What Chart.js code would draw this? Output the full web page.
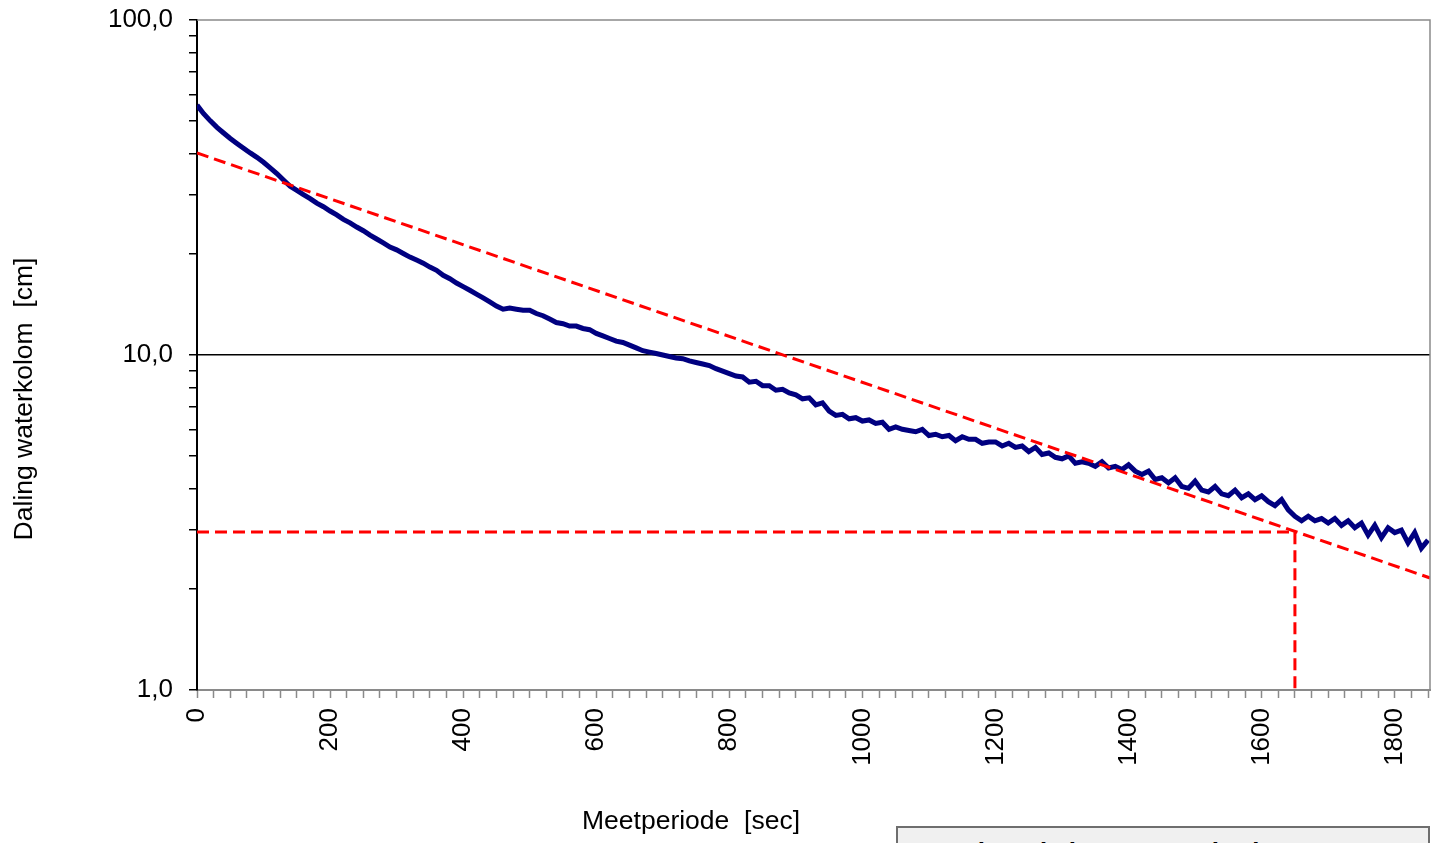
<!DOCTYPE html>
<html>
<head>
<meta charset="utf-8">
<script src="https://cdn.jsdelivr.net/npm/chart.js@4.4.1/dist/chart.umd.min.js"></script>
<style>
  html, body { margin: 0; padding: 0; background: #fff; overflow: hidden; width: 1436px; height: 843px; }
  #wrap { position: relative; width: 1436px; height: 843px; }
  #legendBox {
    position: absolute; left: 896px; top: 826px; width: 534px; height: 40px;
    border: 2px solid #6e6e6e; background: #f0f0f0;
    font: bold 26px "Liberation Sans", Arial, sans-serif; color: #000;
    padding: 9px 0 0 6px; box-sizing: border-box; white-space: nowrap;
  }
</style>
</head>
<body>
<div id="wrap">
  <canvas id="chart" width="1436" height="843"></canvas>
  <div id="legendBox">Omgekeerde boorgatmethode</div>
</div>
<script>
// measured fall of the water column, one reading every 10 sec (cm)
const SAMPLE_STEP = 10;
const measured = [
  55.7, 52.5, 50.0, 47.8, 46.0, 44.3, 42.8, 41.4, 40.1, 38.9,
  37.6, 36.2, 34.8, 33.3, 31.9, 31.0, 30.1, 29.3, 28.4, 27.7,
  26.9, 26.2, 25.4, 24.8, 24.1, 23.5, 22.8, 22.2, 21.6, 21.0,
  20.6, 20.1, 19.6, 19.2, 18.8, 18.3, 17.9, 17.3, 16.9, 16.4,
  16.0, 15.6, 15.2, 14.8, 14.4, 14.0, 13.7, 13.8, 13.7, 13.6,
  13.6, 13.3, 13.1, 12.8, 12.5, 12.4, 12.2, 12.2, 12.0, 11.9,
  11.6, 11.4, 11.2, 11.0, 10.9, 10.7, 10.5, 10.3, 10.2, 10.1,
  10.0, 9.9, 9.8, 9.75, 9.6, 9.5, 9.4, 9.3, 9.1, 8.95,
  8.8, 8.65, 8.6, 8.3, 8.35, 8.1, 8.1, 7.85, 7.9, 7.7,
  7.6, 7.4, 7.45, 7.1, 7.2, 6.8, 6.6, 6.65, 6.45, 6.5,
  6.35, 6.4, 6.25, 6.3, 6.0, 6.1, 6.0, 5.95, 5.9, 6.0,
  5.75, 5.8, 5.7, 5.75, 5.55, 5.7, 5.6, 5.6, 5.45, 5.5,
  5.5, 5.35, 5.45, 5.3, 5.35, 5.15, 5.3, 5.05, 5.1, 4.95,
  4.9, 5.0, 4.75, 4.8, 4.75, 4.65, 4.8, 4.6, 4.65, 4.55,
  4.7, 4.5, 4.4, 4.5, 4.25, 4.3, 4.15, 4.3, 4.05, 4.0,
  4.2, 3.95, 3.9, 4.05, 3.85, 3.8, 3.95, 3.75, 3.85, 3.7,
  3.8, 3.65, 3.55, 3.7, 3.45, 3.3, 3.2, 3.3, 3.2, 3.25,
  3.15, 3.25, 3.1, 3.2, 3.05, 3.15, 2.9, 3.1, 2.85, 3.05,
  2.95, 3.0, 2.75, 2.95, 2.65, 2.8
];

// fitted straight line (on log scale)
const trendX = [0, 1853];
const trendY = [40.1, 2.16];

// read-off lines: level and time
const readX = [0, 1650, 1650];
const readY = [2.96, 2.96, 1];

const xMax = 1853;
const yTicks = [1, 2, 3, 4, 5, 6, 7, 8, 9, 10, 20, 30, 40, 50, 60, 70, 80, 90, 100];
const yMajor = [1, 10, 100];

const FONT = '"Liberation Sans", Arial, sans-serif';

const measuredPts = measured.map((v, i) => ({ x: i * SAMPLE_STEP, y: v }));
const trendPts = trendX.map((x, i) => ({ x: x, y: trendY[i] }));
const readPts = readX.map((x, i) => ({ x: x, y: readY[i] }));

// gray frame on top and right, axis titles
const extras = {
  id: 'extras',
  afterDraw(chart) {
    const { ctx, chartArea } = chart;
    ctx.save();
    ctx.strokeStyle = '#8a8a8a';
    ctx.lineWidth = 1.5;
    ctx.beginPath();
    ctx.moveTo(chartArea.left, chartArea.top);
    ctx.lineTo(chartArea.right, chartArea.top);
    ctx.lineTo(chartArea.right, chartArea.bottom);
    ctx.stroke();

    ctx.fillStyle = '#000';
    ctx.font = '26.5px ' + FONT;
    ctx.textAlign = 'center';
    ctx.textBaseline = 'middle';
    ctx.fillText('Meetperiode  [sec]', 691, 822);
    ctx.translate(25, 399);
    ctx.rotate(-Math.PI / 2);
    ctx.fillText('Daling waterkolom  [cm]', 0, 0);
    ctx.restore();
  }
};

new Chart(document.getElementById('chart'), {
  type: 'line',
  data: {
    datasets: [
      {
        data: measuredPts,
        borderColor: '#000080',
        borderWidth: 5,
        pointRadius: 0,
        tension: 0,
        order: 2
      },
      {
        data: trendPts,
        borderColor: '#ff0000',
        borderWidth: 3,
        borderDash: [12, 6],
        pointRadius: 0,
        order: 1
      },
      {
        data: readPts,
        borderColor: '#ff0000',
        borderWidth: 3,
        borderDash: [12, 6],
        pointRadius: 0,
        order: 1
      }
    ]
  },
  options: {
    responsive: false,
    animation: false,
    devicePixelRatio: 1,
    layout: { padding: { top: 20, right: 6, left: 0, bottom: 0 } },
    plugins: {
      legend: { display: false },
      tooltip: { enabled: false }
    },
    scales: {
      x: {
        type: 'linear',
        min: 0,
        max: xMax,
        afterFit: (axis) => {
          axis.height = 153;
          axis.paddingLeft = 0;
          axis.paddingRight = 0;
        },
        border: { color: '#8a8a8a', width: 2 },
        grid: {
          drawOnChartArea: false,
          tickLength: 8,
          tickColor: '#8a8a8a',
          tickWidth: 1.5
        },
        ticks: {
          stepSize: 25,
          autoSkip: false,
          includeBounds: false,
          maxRotation: 90,
          minRotation: 90,
          padding: 10,
          color: '#000',
          font: { family: FONT, size: 26 },
          callback: (v) => (v % 200 === 0 ? String(v) : '')
        }
      },
      y: {
        type: 'logarithmic',
        min: 1,
        max: 100,
        afterFit: (axis) => {
          axis.width = 197;
          axis.paddingTop = 0;
          axis.paddingBottom = 0;
        },
        afterBuildTicks: (axis) => { axis.ticks = yTicks.map(v => ({ value: v })); },
        border: { color: '#000', width: 2 },
        grid: {
          color: (c) => (c.tick && c.tick.value === 10 ? '#000' : 'rgba(0,0,0,0)'),
          lineWidth: 1.5,
          tickLength: 8,
          tickColor: '#000',
          tickWidth: 1.5
        },
        ticks: {
          autoSkip: false,
          padding: 16,
          color: '#000',
          font: { family: FONT, size: 26 },
          callback: (v) => (yMajor.includes(v) ? v.toFixed(1).replace('.', ',') : '')
        }
      }
    }
  },
  plugins: [extras]
});
</script>
</body>
</html>
